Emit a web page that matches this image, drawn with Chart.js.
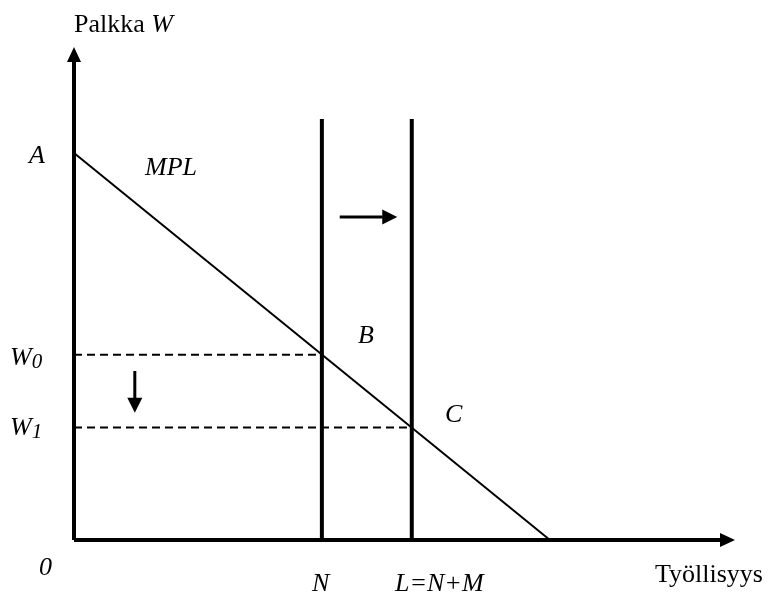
<!DOCTYPE html>
<html>
<head>
<meta charset="utf-8">
<script src="https://cdn.jsdelivr.net/npm/chart.js@4"></script>
<style>
  body { margin: 0; background: #fff; }
  canvas { display: block; }
</style>
</head>
<body>
<canvas id="tyoChart" width="768" height="593"></canvas>
<script>
// akselit (data-yksiköt, 0..10)
const axisX = [0, 10];
const axisY = [0, 10];
// MPL-suora: alkaa A:sta y-akselilla, päättyy x-akselille
const mplX = [0, 7.2];
const mplY = [7.85, 0];
// työvoima N ja L=N+M (pystysuorat)
const laborX = [3.75, 5.11];
const laborTop = 8.54;
// palkat W0 ja W1
const wageY = [3.76, 2.28];
// siirtymänuolet
const shiftX = [4.02, 4.89];
const shiftY = 6.55;
const dropX = 0.92;
const dropY = [3.43, 2.58];

const FONT = '"Liberation Serif", "Times New Roman", serif';

// tekstit (sijainnit pikseleinä)
const texts = [
  { x: 74, y: 32, runs: [{ t: 'Palkka ' }, { t: 'W', i: true }] },
  { x: 29, y: 163, runs: [{ t: 'A', i: true }] },
  { x: 145, y: 175, runs: [{ t: 'MPL', i: true }] },
  { x: 10, y: 365, runs: [{ t: 'W', i: true }, { t: '0', i: true, s: 21, dy: 3 }] },
  { x: 10, y: 435, runs: [{ t: 'W', i: true }, { t: '1', i: true, s: 21, dy: 3 }] },
  { x: 358, y: 343, runs: [{ t: 'B', i: true }] },
  { x: 445, y: 422, runs: [{ t: 'C', i: true }] },
  { x: 39, y: 575, runs: [{ t: '0', i: true }] },
  { x: 312, y: 591, runs: [{ t: 'N', i: true }] },
  { x: 395, y: 591, runs: [{ t: 'L=N+M', i: true }] },
  { x: 655, y: 582, runs: [{ t: 'Työllisyys' }] }
];

function seg(xs, ys) {
  return xs.map((x, k) => ({ x, y: ys[k] }));
}

function line(data, width, extra) {
  return Object.assign({
    data,
    showLine: true,
    borderColor: '#000',
    backgroundColor: '#000',
    borderWidth: width,
    pointRadius: 0,
    clip: false
  }, extra || {});
}

// nuolenkärjet viivojen loppupäähän
const arrowPlugin = {
  id: 'arrows',
  beforeDatasetDraw(chart, args) {
    const ds = chart.data.datasets[args.index];
    if (!ds.arrow) return;
    const pts = args.meta.data;
    const a = pts[pts.length - 2], b = pts[pts.length - 1];
    const ang = Math.atan2(b.y - a.y, b.x - a.x);
    const { len, half } = ds.arrow;
    const ctx = chart.ctx;
    const m = ctx.getTransform();
    ctx.save();
    ctx.beginPath();
    ctx.rect(0, 0, chart.width, chart.height);
    ctx.translate(b.x, b.y);
    ctx.rotate(ang);
    ctx.rect(-len + 0.5, -half, len + 10, half * 2);
    ctx.setTransform(m);
    ctx.clip('evenodd');
  },
  afterDatasetDraw(chart, args) {
    const ds = chart.data.datasets[args.index];
    if (!ds.arrow) return;
    const ctx = chart.ctx;
    ctx.restore();
    const pts = args.meta.data;
    const a = pts[pts.length - 2], b = pts[pts.length - 1];
    const ang = Math.atan2(b.y - a.y, b.x - a.x);
    const { len, half } = ds.arrow;
    ctx.save();
    ctx.translate(b.x, b.y);
    ctx.rotate(ang);
    ctx.beginPath();
    ctx.moveTo(0, 0);
    ctx.lineTo(-len, -half);
    ctx.lineTo(-len, half);
    ctx.closePath();
    ctx.fillStyle = '#000';
    ctx.fill();
    ctx.restore();
  }
};

const textPlugin = {
  id: 'texts',
  afterDraw(chart) {
    const ctx = chart.ctx;
    ctx.save();
    ctx.fillStyle = '#000';
    ctx.textBaseline = 'alphabetic';
    ctx.textAlign = 'left';
    texts.forEach(lb => {
      let x = lb.x;
      lb.runs.forEach(r => {
        ctx.font = (r.i ? 'italic ' : '') + (r.s || 26) + 'px ' + FONT;
        ctx.fillText(r.t, x, lb.y + (r.dy || 0));
        x += ctx.measureText(r.t).width;
      });
    });
    ctx.restore();
  }
};

const ctx = document.getElementById('tyoChart').getContext('2d');
new Chart(ctx, {
  type: 'scatter',
  data: {
    datasets: [
      line(seg([0, 0], axisY), 4, { arrow: { len: 15, half: 7 } }),
      line(seg(axisX, [0, 0]), 4, { arrow: { len: 15, half: 7 } }),
      line(seg(mplX, mplY), 2),
      line(seg([laborX[0], laborX[0]], [0, laborTop]), 4),
      line(seg([laborX[1], laborX[1]], [0, laborTop]), 4),
      line(seg([0, laborX[0]], [wageY[0], wageY[0]]), 2, { borderDash: [8, 5] }),
      line(seg([0, laborX[1]], [wageY[1], wageY[1]]), 2, { borderDash: [8, 5] }),
      line(seg(shiftX, [shiftY, shiftY]), 3, { arrow: { len: 15, half: 7.5 } }),
      line(seg([dropX, dropX], dropY), 3, { arrow: { len: 15, half: 7.5 } })
    ]
  },
  options: {
    responsive: false,
    animation: false,
    events: [],
    layout: { padding: { left: 74, right: 33, top: 47, bottom: 53 } },
    plugins: {
      legend: { display: false },
      tooltip: { enabled: false }
    },
    scales: {
      x: { type: 'linear', min: axisX[0], max: axisX[1], display: false },
      y: { type: 'linear', min: axisY[0], max: axisY[1], display: false }
    }
  },
  plugins: [arrowPlugin, textPlugin]
});
</script>
</body>
</html>
